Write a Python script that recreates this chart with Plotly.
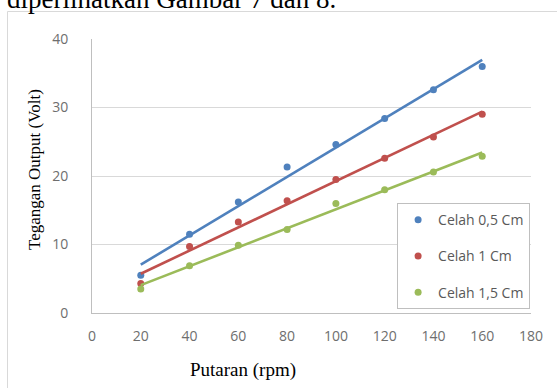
import numpy as np
import plotly.graph_objects as go

rpm = [20, 40, 60, 80, 100, 120, 140, 160]
celah_05 = [5.5, 11.5, 16.2, 21.3, 24.6, 28.4, 32.6, 36.0]
celah_10 = [4.3, 9.7, 13.3, 16.4, 19.5, 22.6, 25.7, 29.0]
celah_15 = [3.5, 6.9, 9.9, 12.2, 16.0, 18.0, 20.6, 22.9]
names = ["Celah 0,5 Cm", "Celah 1 Cm", "Celah 1,5 Cm"]
colors = ["#4F81BD", "#C0504D", "#9BBB59"]
x_ticks = [0, 20, 40, 60, 80, 100, 120, 140, 160, 180]
y_ticks = [0, 10, 20, 30, 40]

fig = go.Figure()
for i, (ys, name, col) in enumerate(zip([celah_05, celah_10, celah_15], names, colors)):
    # linear trendline (least squares) over the data
    a, b = np.polyfit(rpm, ys, 1)
    xt = [rpm[0], rpm[-1]]
    yt = [a * v + b for v in xt]
    fig.add_trace(go.Scatter(x=xt, y=yt, mode="lines", line=dict(color=col, width=2.6),
                             showlegend=False, hoverinfo="skip", legendgroup=f"g{i}"))
    fig.add_trace(go.Scatter(x=rpm, y=ys, mode="markers", name=name,
                             marker=dict(color=col, size=7), legendgroup=f"g{i}"))

fig.update_layout(
    width=557, height=388,
    margin=dict(l=92, r=26, t=39, b=75),
    paper_bgcolor="white", plot_bgcolor="white",
    font=dict(family="Open Sans, Liberation Sans, sans-serif", color="#595959", size=14),
    xaxis=dict(range=[0, 180], tickvals=x_ticks, showgrid=False, zeroline=False,
               showline=True, linecolor="#BFBFBF", linewidth=1, ticks="",
               ticklabelstandoff=10, tickfont=dict(size=14, color="#6E6E6E")),
    yaxis=dict(range=[0, 40], tickvals=y_ticks, showgrid=True, gridcolor="#D9D9D9",
               gridwidth=1, zeroline=False, showline=True, linecolor="#BFBFBF",
               linewidth=1, ticks="", ticklabelstandoff=20,
               tickfont=dict(size=14, color="#6E6E6E")),
    legend=dict(x=0.695, y=0.401, xanchor="left", yanchor="top",
                bgcolor="white", bordercolor="#BFBFBF", borderwidth=1,
                font=dict(size=14, color="#595959"), traceorder="grouped",
                tracegroupgap=15, itemwidth=30),
    showlegend=True,
)

# chart frame
fig.add_shape(type="rect", xref="paper", yref="paper",
              x0=(7.5 - 92) / 439, x1=2.0, y0=-1.0, y1=(313 - 11.5) / 274,
              line=dict(color="#D9D9D9", width=1), fillcolor="rgba(0,0,0,0)", layer="below")

# axis titles
fig.add_annotation(text="Putaran (rpm)", xref="paper", yref="paper",
                   x=(243 - 92) / 439, y=(313 - 370) / 274, xanchor="center", yanchor="middle",
                   showarrow=False, font=dict(family="Liberation Serif, serif", size=19, color="#000000"))
fig.add_annotation(text="Tegangan Output (Volt)", xref="paper", yref="paper",
                   x=(34 - 92) / 439, y=(313 - 170) / 274, xanchor="center", yanchor="middle",
                   textangle=-90, showarrow=False,
                   font=dict(family="Liberation Serif, serif", size=17, color="#000000"))

# clipped caption text from the page above
fig.add_annotation(text="diperlihatkan Gambar 7 dan 8.", xref="paper", yref="paper",
                   x=(5 - 92) / 439, y=(313 - 16) / 274, xanchor="left", yanchor="bottom",
                   showarrow=False, font=dict(family="Liberation Serif, serif", size=27, color="#000000"))

fig.write_html("out.html")
